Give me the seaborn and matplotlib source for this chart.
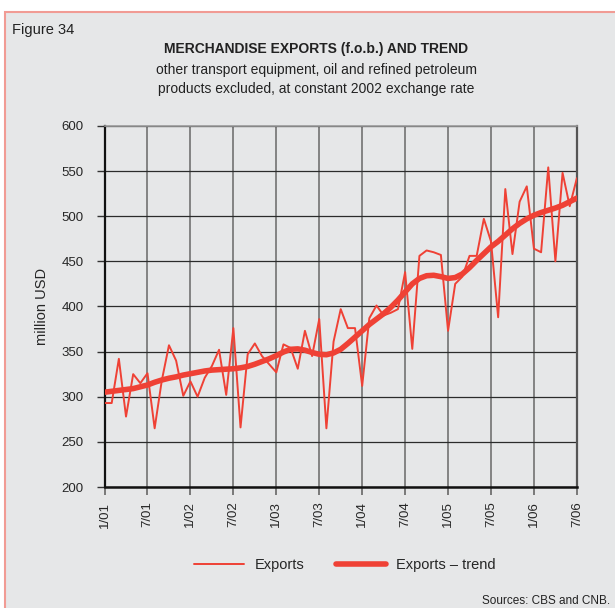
import pandas as pd
import matplotlib.pyplot as plt
import seaborn as sns
from matplotlib.patches import Rectangle

# monthly values, 1/01 .. 7/06 (million USD)
exports = [293, 293, 342, 278, 325, 315, 326, 265, 318, 357, 340, 301,
           317, 300, 321, 334, 352, 302, 376, 266, 347, 359, 345, 336,
           327, 358, 354, 331, 373, 345, 386, 265, 361, 397, 376, 376,
           312, 387, 401, 390, 393, 397, 438, 353, 456, 462, 460, 457,
           373, 425, 433, 456, 456, 497, 472, 388, 530, 458, 516, 533,
           464, 460, 554, 450, 548, 511, 542]
trend = [305, 306, 307, 308, 309, 311, 313, 316, 318.5, 320.5, 322, 324,
         325.5, 327, 328.5, 329.5, 330, 330.5, 331, 332, 333.5, 336, 339, 342,
         345.5, 349.5, 352.5, 353, 351.5, 349, 347, 346.5, 348.5, 352.5, 359, 366,
         373, 380, 386, 392, 399, 407, 416, 425, 431, 434, 434.5, 433,
         431, 432, 436, 443, 451, 458.5, 466, 472, 479, 486, 492, 497,
         501, 504, 506.5, 509, 512, 516, 520]
tick_labels = ["1/01", "7/01", "1/02", "7/02", "1/03", "7/03", "1/04",
               "7/04", "1/05", "7/05", "1/06", "7/06"]

df = pd.DataFrame({"month": range(len(exports)), "Exports": exports,
                   "Exports \u2013 trend": trend})

sns.set_theme(style="white")
plt.rcParams["font.family"] = ["Liberation Sans", "DejaVu Sans"]

bg = "#e6e7e8"
red = "#ef4135"

fig = plt.figure(figsize=(6.15, 6.08), dpi=100)
fig.patch.set_facecolor("white")
fig.patches.append(Rectangle((5 / 615, -0.01), 1.0, 1 - 12 / 608 + 0.01,
                             transform=fig.transFigure, facecolor=bg,
                             edgecolor="#f19b94", linewidth=1.5, zorder=-10))

ax = fig.add_axes([0.170, 0.199, 0.768, 0.594])
ax.set_zorder(2)
ax.set_facecolor(bg)

sns.lineplot(data=df, x="month", y="Exports", ax=ax, color=red,
             linewidth=1.4, label="Exports", zorder=3)
sns.lineplot(data=df, x="month", y="Exports \u2013 trend", ax=ax, color=red,
             linewidth=4, label="Exports \u2013 trend", zorder=4)

ax.set_xlim(0, len(exports) - 1)
ax.set_ylim(200, 600)
ax.set_xticks(range(0, len(exports), 6))
ax.set_xticklabels(tick_labels, rotation=90, fontsize=9.5)
ax.set_yticks(range(200, 601, 50))
ax.tick_params(axis="y", labelsize=9.5, length=6, width=1, pad=9,
               color="#333333", left=True)
ax.tick_params(axis="x", length=5.5, width=1.2, pad=5, color="#666666",
               bottom=True)

ax.yaxis.grid(True, color="#2b2b2b", linewidth=0.9)
ax.xaxis.grid(True, color="#7b7b7b", linewidth=1.3)
ax.set_axisbelow(True)

ax.set_xlabel("")
ax.set_ylabel("million USD", fontsize=10.5, labelpad=9)

ax.spines["left"].set_color("#111111")
ax.spines["left"].set_linewidth(1.6)
ax.spines["bottom"].set_color("#111111")
ax.spines["bottom"].set_linewidth(1.8)
ax.spines["top"].set_color("#9a9a9a")
ax.spines["top"].set_linewidth(1.2)
ax.spines["right"].set_color("#555555")
ax.spines["right"].set_linewidth(1.6)

ax.legend_.remove()
handles, labels = ax.get_legend_handles_labels()
fig.legend(handles, labels, loc="center", bbox_to_anchor=(345 / 615, 1 - 565 / 608),
           ncol=2, frameon=False, fontsize=10.5, handlelength=3.4,
           columnspacing=2.2, handletextpad=0.7)

fig.text(12 / 615, 1 - 30 / 608, "Figure 34", fontsize=10.5, va="center",
         color="#222222")
fig.text(316 / 615, 1 - 49 / 608, "MERCHANDISE EXPORTS (f.o.b.) AND TREND",
         fontsize=10, fontweight="bold", ha="center", va="center", color="#222222")
fig.text(316 / 615, 1 - 70 / 608, "other transport equipment, oil and refined petroleum",
         fontsize=10, ha="center", va="center", color="#222222")
fig.text(316 / 615, 1 - 89 / 608, "products excluded, at constant 2002 exchange rate",
         fontsize=10, ha="center", va="center", color="#222222")
fig.text(610 / 615, 1 - 601 / 608, "Sources: CBS and CNB.", fontsize=8.5,
         ha="right", va="center", color="#222222")

fig.savefig("out.png", dpi=100, facecolor=fig.get_facecolor())
